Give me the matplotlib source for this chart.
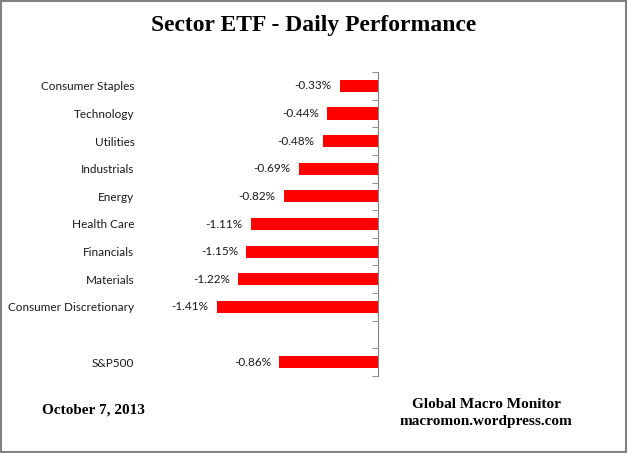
import matplotlib
matplotlib.use("Agg")
import matplotlib.pyplot as plt
from matplotlib.patches import Rectangle

# sectors top to bottom, blank slot before the index
sectors = ["Consumer Staples", "Technology", "Utilities", "Industrials", "Energy",
           "Health Care", "Financials", "Materials", "Consumer Discretionary", "", "S&P500"]
perf = [-0.33, -0.44, -0.48, -0.69, -0.82, -1.11, -1.15, -1.22, -1.41, None, -0.86]

lab_font = "Lato"
serif = "Liberation Serif"

fig = plt.figure(figsize=(6.28, 4.53), dpi=100)
ax = fig.add_axes([140 / 628, 1 - 376 / 453, (377.5 - 140) / 628, (376 - 72) / 453])

ypos = list(range(len(sectors)))
for y, v in zip(ypos, perf):
    if v is None:
        continue
    ax.barh(y, v, height=0.44, color="#ff0000")
    ax.annotate(f"{v:.2f}%", xy=(v, y), xytext=(-6, 0), textcoords="offset points",
                ha="right", va="center", fontsize=8.5, family=lab_font, color="#1a1a1a")

ax.set_xlim(-2.083, 0)
ax.set_ylim(len(sectors) - 0.5, -0.5)
ax.set_yticks(ypos)
ax.set_yticklabels(sectors, fontsize=8.5, family=lab_font, color="#1a1a1a")
ax.set_yticks([i - 0.5 for i in range(len(sectors) + 1)], minor=True)
ax.tick_params(axis="y", which="major", length=0, pad=4)
ax.tick_params(axis="y", which="minor", left=False, right=True, direction="in",
               length=4, color="#808080")
ax.set_xticks([])
for s in ["top", "bottom", "left"]:
    ax.spines[s].set_visible(False)
ax.spines["right"].set_color("#808080")

fig.text(0.5, 1 - 26 / 453, "Sector ETF - Daily Performance", ha="center", va="center",
         family=serif, fontweight="bold", fontsize=17)
fig.text(42 / 628, 1 - 410 / 453, "October 7, 2013", ha="left", va="center",
         family=serif, fontweight="bold", fontsize=11)
fig.text(486 / 628, 1 - 405 / 453, "Global Macro Monitor", ha="center", va="center",
         family=serif, fontweight="bold", fontsize=11)
fig.text(486 / 628, 1 - 422 / 453, "macromon.wordpress.com", ha="center", va="center",
         family=serif, fontweight="bold", fontsize=11)

fig.patches.append(Rectangle((0.002, 0.003), 0.995, 0.994, transform=fig.transFigure,
                             fill=False, edgecolor="#808080", linewidth=1.5))

fig.savefig("out.png", dpi=100)
